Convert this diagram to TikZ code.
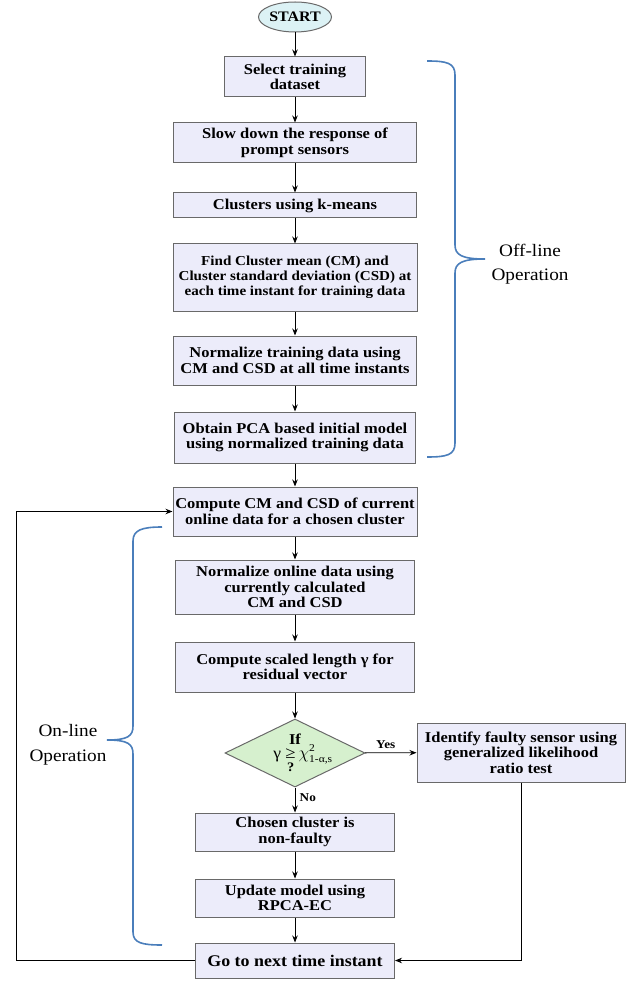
\documentclass[tikz,border=0pt]{standalone}
\usepackage{fontspec}
\setmainfont{Liberation Serif}
\newfontfamily\bxf[FakeStretch=1.1]{Liberation Serif}
\usetikzlibrary{shapes.geometric,arrows.meta}
\definecolor{boxfill}{RGB}{236,236,250}
\definecolor{boxdraw}{RGB}{105,105,105}
\definecolor{startfill}{RGB}{220,242,245}
\definecolor{diafill}{RGB}{214,240,206}
\definecolor{bracecol}{RGB}{74,126,187}
\begin{document}
\begin{tikzpicture}[x=1pt,y=-1pt,
  box/.style={draw=boxdraw, fill=boxfill, line width=1pt, rectangle, inner sep=0pt, align=center,
    font=\bxf\bfseries\fontsize{15}{15.5}\selectfont},
  arr/.style={-{Stealth[length=7pt,width=5.5pt]}, line width=0.8pt, black},
  brace/.style={draw=bracecol, line width=1.6pt},
  lbl/.style={font=\bxf\fontsize{17.5}{24.5}\selectfont, align=center},
  ylbl/.style={font=\bxf\bfseries\fontsize{12}{12}\selectfont}]
\useasboundingbox (0,0) rectangle (638,981);

\node[ellipse, draw=boxdraw, fill=startfill, line width=1pt, minimum width=73pt, minimum height=30pt, inner sep=0pt,
  font=\bxf\bfseries\fontsize{14.5}{15}\selectfont] (start) at (295,17) {START};
\node[box, minimum width=141pt, minimum height=40pt] (b1) at (295,77) {Select training\\dataset};
\node[box, minimum width=243pt, minimum height=40pt] (b2) at (295,143) {Slow down the response of\\prompt sensors};
\node[box, minimum width=243pt, minimum height=25pt] (b3) at (295,205.5) {Clusters using k-means};
\node[box, minimum width=244pt, minimum height=67pt, font=\bxf\bfseries\fontsize{13.7}{15}\selectfont] (b4) at (295,277.5)
  {Find Cluster mean (CM) and\\Cluster standard deviation (CSD) at\\each time instant for training data};
\node[box, minimum width=243pt, minimum height=49pt] (b5) at (295,360.5) {Normalize training data using\\CM and CSD at all time instants};
\node[box, minimum width=241pt, minimum height=51pt] (b6) at (295,437.5) {Obtain PCA based initial model\\using normalized training data};
\node[box, minimum width=244pt, minimum height=49pt] (b7) at (295,511.5) {Compute CM and CSD of current\\online data for a chosen cluster};
\node[box, minimum width=239pt, minimum height=54pt] (b8) at (295,587) {Normalize online data using\\currently calculated\\CM and CSD};
\node[box, minimum width=239pt, minimum height=50pt] (b9) at (295,667) {Compute scaled length γ for\\residual vector};
\node[diamond, draw=boxdraw, fill=diafill, line width=1pt, minimum width=140pt, minimum height=68pt, inner sep=0pt,
  aspect=2.06] (dia) at (295,753) {};
\node[font=\bxf\fontsize{16}{14}\selectfont, inner sep=0pt, align=center] (dtxt) at (303,753)
  {{\bfseries\fontsize{15}{14}\selectfont If}\hspace*{16pt}\\
   γ $\mathop{\mbox{\fontsize{17}{17}\selectfont ≥}}\limits_{\mbox{\bxf\bfseries\fontsize{13}{13}\selectfont\rule{0pt}{11.5pt}?}}
   \chi^{\mbox{\bxf\fontsize{10.5}{10.5}\selectfont 2}}_{\mbox{\bxf\fontsize{10.5}{10.5}\selectfont 1-α,s}}$};
\node[box, minimum width=208pt, minimum height=59pt] (yes) at (521,752.5) {Identify faulty sensor using\\generalized likelihood\\ratio test};
\node[box, minimum width=199pt, minimum height=38pt] (b10) at (295,832) {Chosen cluster is\\non-faulty};
\node[box, minimum width=199pt, minimum height=38pt] (b11) at (295,898) {Update model using\\RPCA-EC};
\node[box, minimum width=199pt, minimum height=35pt, font=\bxf\bfseries\fontsize{16.3}{17}\selectfont] (b12) at (295,960.5) {Go to next time instant};

\draw[arr] (start) -- (b1);
\draw[arr] (b1) -- (b2);
\draw[arr] (b2) -- (b3);
\draw[arr] (b3) -- (b4);
\draw[arr] (b4) -- (b5);
\draw[arr] (b5) -- (b6);
\draw[arr] (b6) -- (b7);
\draw[arr] (b7) -- (b8);
\draw[arr] (b8) -- (b9);
\draw[arr] (b9) -- (dia);
\draw[arr] (dia) -- node[ylbl, above, pos=0.4] {Yes} (yes);
\draw[arr] (dia) -- node[ylbl, right, pos=0.4, xshift=1pt] {No} (b10);
\draw[arr] (b10) -- (b11);
\draw[arr] (b11) -- (b12);
\draw[arr] (yes.south) |- (b12.east);
\coordinate (lp) at (16,0);
\draw[arr] (b12.west) -- (b12.west -| lp) |- (b7.west);

\draw[brace] (427,61) .. controls (447,61) and (455,63) .. (455,75) -- (455,245)
  .. controls (455,255) and (462,259) .. (485,259)
  .. controls (462,259) and (455,263) .. (455,273) -- (455,443)
  .. controls (455,455) and (447,457) .. (427,457);
\node[lbl] (offl) at (530,264) {Off-line\\Operation};

\draw[brace] (162,527) .. controls (142,527) and (133,530) .. (133,541) -- (133,726)
  .. controls (133,736) and (128,740) .. (107,740)
  .. controls (128,740) and (133,744) .. (133,754) -- (133,932)
  .. controls (133,943) and (142,945) .. (162,945);
\node[lbl] (onl) at (68,745) {On-line\\Operation};
\end{tikzpicture}
\end{document}
